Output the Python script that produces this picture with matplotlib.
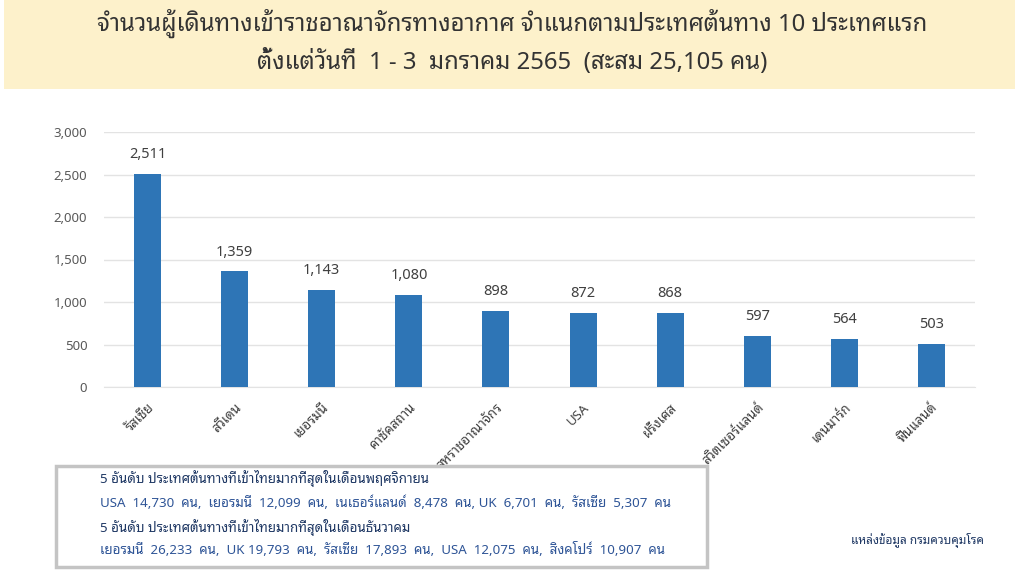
"""Top-10 origin countries of air arrivals, 1-3 Jan 2565 (bar chart with Thai labels)."""

import matplotlib
matplotlib.use("Agg")
import matplotlib.pyplot as plt
from matplotlib.patches import Rectangle
from matplotlib.ticker import FuncFormatter

THAI = ["Noto Sans Thai Looped", "Noto Sans Thai", "DejaVu Sans"]
plt.rcParams["font.family"] = THAI

countries = ["รัสเซีย", "สวีเดน", "เยอรมนี", "คาซัคสถาน", "สหราชอาณาจักร",
             "USA", "ฝรั่งเศส", "สวิตเซอร์แลนด์", "เดนมาร์ก", "ฟินแลนด์"]
arrivals = [2511, 1359, 1143, 1080, 898, 872, 868, 597, 564, 503]
y_ticks = [0, 500, 1000, 1500, 2000, 2500, 3000]

title_lines = [
    "จำนวนผู้เดินทางเข้าราชอาณาจักรทางอากาศ จำแนกตามประเทศต้นทาง 10 ประเทศแรก",
    "ตั้งแต่วันที่  1 - 3  มกราคม 2565  (สะสม 25,105 คน)",
]
note_lines = [
    "5 อันดับ ประเทศต้นทางที่เข้าไทยมากที่สุดในเดือนพฤศจิกายน",
    "USA  14,730  คน,  เยอรมนี  12,099  คน,  เนเธอร์แลนด์  8,478  คน, UK  6,701  คน,  รัสเซีย  5,307  คน",
    "5 อันดับ ประเทศต้นทางที่เข้าไทยมากที่สุดในเดือนธันวาคม",
    "เยอรมนี  26,233  คน,  UK 19,793  คน,  รัสเซีย  17,893  คน,  USA  12,075  คน,  สิงคโปร์  10,907  คน",
]
source_text = "แหล่งข้อมูล กรมควบคุมโรค"

BAR = "#2E75B6"
W, H = 1024, 576

fig = plt.figure(figsize=(10.24, 5.76), dpi=100)

# title band
fig.patches.append(Rectangle((4 / W, 1 - 89 / H), 1011 / W, 89 / H,
                             transform=fig.transFigure, facecolor="#FDF1CB",
                             edgecolor="none", zorder=0))
fig.text(0.5, 1 - 23 / H, title_lines[0], ha="center", va="center",
         fontsize=17.2, color="#333333", fontweight="medium")
fig.text(0.5, 1 - 62 / H, title_lines[1], ha="center", va="center",
         fontsize=17.2, color="#333333", fontweight="medium")

ax = fig.add_axes([104 / W, 1 - 387 / H, 871 / W, 255 / H])
x = range(len(countries))
bars = ax.bar(x, arrivals, width=0.31, color=BAR, zorder=3)
for b, v in zip(bars, arrivals):
    ax.text(b.get_x() + b.get_width() / 2, v + 140, f"{v:,}", ha="center",
            va="bottom", fontsize=10.5, color="#404040")

ax.set_xlim(-0.5, len(countries) - 0.5)
ax.set_ylim(0, 3000)
ax.set_yticks(y_ticks)
ax.yaxis.set_major_formatter(FuncFormatter(lambda v, p: f"{int(v):,}"))
ax.set_xticks(list(x))
ax.set_xticklabels(countries, rotation=45, ha="right", rotation_mode="anchor",
                   fontsize=9.5, color="#404040", fontstyle="italic",
                   fontweight="semibold")
ax.tick_params(axis="y", labelsize=9.5, labelcolor="#595959", length=0, pad=12)
ax.tick_params(axis="x", length=0, pad=10)
ax.grid(axis="y", color="#E3E3E3", linewidth=1.0, zorder=0)
for s in ["top", "right", "left"]:
    ax.spines[s].set_visible(False)
ax.spines["bottom"].set_color("#E3E3E3")

# note box
fig.patches.append(Rectangle((56 / W, 1 - 567 / H), 651 / W, 101 / H,
                             transform=fig.transFigure, facecolor="white",
                             edgecolor="#C4C4C4", linewidth=2.5, zorder=1))
note_y = [478, 503, 527, 550]
note_col = ["#1F3864", "#2F5597", "#1F3864", "#2F5597"]
note_w = ["semibold", "normal", "semibold", "normal"]
for t, yy, c, wt in zip(note_lines, note_y, note_col, note_w):
    fig.text(100 / W, 1 - yy / H, t, ha="left", va="center", fontsize=9.6,
             color=c, fontweight=wt, zorder=2)

fig.text(984 / W, 1 - 541 / H, source_text, ha="right", va="center",
         fontsize=8.5, color="#1F3864", fontweight="semibold")

fig.savefig("out.png", dpi=100)
